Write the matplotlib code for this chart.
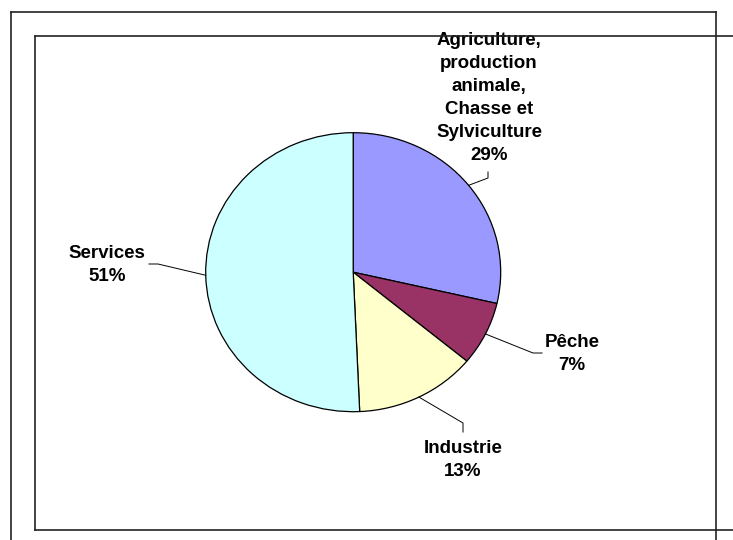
import numpy as np
import matplotlib
matplotlib.use("Agg")
import matplotlib.pyplot as plt
from matplotlib.lines import Line2D

labels = ["Agriculture,\nproduction\nanimale,\nChasse et\nSylviculture", "Pêche", "Industrie", "Services"]
values = [28.6, 7.4, 13.3, 50.7]
colors = ["#9999FF", "#993366", "#FFFFCC", "#CCFFFF"]

# label placement (pixel coords, y from top): text center, elbow, line end
text_pos = [(489, 98), (572, 354), (463, 460), (107, 265)]
elbows = [(488, 178), (533, 353), (463, 423), (158, 264)]
ends = [(488, 172), (542, 353), (463, 432), (149, 264)]

W, H = 733, 540
fig = plt.figure(figsize=(W / 100, H / 100), dpi=100)

# pie is slightly squashed in the original: box 295 x 279 px
px, py, pw, ph = 205.7, 132.7, 295, 279
pax = fig.add_axes([px / W, 1 - (py + ph) / H, pw / W, ph / H])
wedges, _ = pax.pie(values, colors=colors, startangle=90, counterclock=False,
                    radius=1, frame=True,
                    wedgeprops=dict(edgecolor="black", linewidth=0.9))
pax.set_xlim(-1, 1)
pax.set_ylim(-1, 1)
pax.set_aspect("auto")
pax.axis("off")

ax = fig.add_axes([0, 0, 1, 1])
ax.set_xlim(0, W)
ax.set_ylim(0, H)
ax.axis("off")
ax.patch.set_alpha(0)

for w, lab, v, tp, el, en in zip(wedges, labels, values, text_pos, elbows, ends):
    mid = np.deg2rad((w.theta1 + w.theta2) / 2)
    sx, sy = pax.transData.transform((np.cos(mid), np.sin(mid)))
    ax.plot([sx, el[0], en[0]], [sy, H - el[1], H - en[1]], color="black", lw=0.7)
    ax.text(tp[0], H - tp[1], f"{lab}\n{v:.0f}%", ha="center", va="center",
            fontsize=13.5, fontweight="bold", linespacing=1.45,
            family=["Liberation Sans", "DejaVu Sans"])

# frames
def line(x0, y0, x1, y1):
    fig.add_artist(Line2D([x0 / W, x1 / W], [1 - y0 / H, 1 - y1 / H],
                          transform=fig.transFigure, color="#222222", lw=1.2))

line(11, 12, 716, 12)
line(11, 12, 11, H)
line(716, 12, 716, H)
line(35, 36, W, 36)
line(35, 36, 35, 530)
line(35, 530, W, 530)

fig.savefig("out.png", dpi=100)
